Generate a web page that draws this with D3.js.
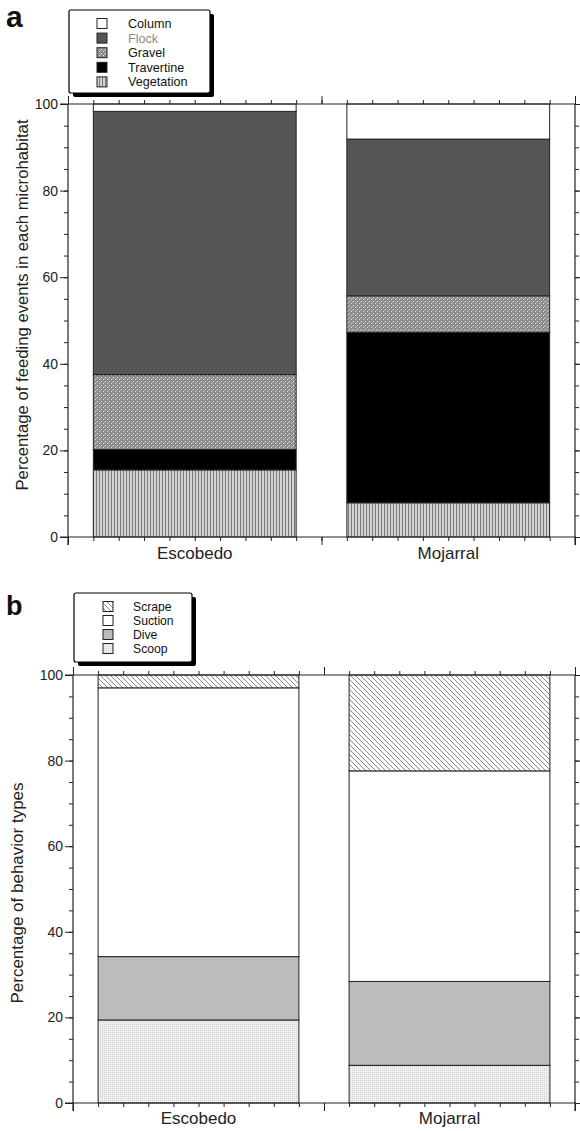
<!DOCTYPE html>
<html><head><meta charset="utf-8">
<script src="https://cdn.jsdelivr.net/npm/d3@7"></script>
<style>body{margin:0;background:#fff}svg{display:block;font-family:"Liberation Sans",Arial,sans-serif}</style>
</head><body><svg id="c" width="580" height="1131"></svg>
<script>
const sites = ["Escobedo", "Mojarral"];
// Panel a: microhabitat (bottom to top)
const habitatKeys = ["Vegetation", "Travertine", "Gravel", "Flock", "Column"];
const vegetation = [15.5, 7.9];
const travertine = [4.7, 39.4];
const gravel = [17.3, 8.4];
const flock = [60.8, 36.2];
const column = [1.7, 8.1];
// Panel b: behavior types (bottom to top)
const behaviorKeys = ["Scoop", "Dive", "Suction", "Scrape"];
const scoop = [19.4, 8.8];
const dive = [14.8, 19.6];
const suction = [62.8, 49.2];
const scrape = [3.0, 22.4];
const yTicks = [0, 20, 40, 60, 80, 100];
const legendA = ["Column", "Flock", "Gravel", "Travertine", "Vegetation"];
const legendB = ["Scrape", "Suction", "Dive", "Scoop"];

const FONT = "'Liberation Sans', Arial, sans-serif";
const svg = d3.select("#c");
const defs = svg.append("defs");
function pat(id, w, h, bg, draw) {
  const p = defs.append("pattern").attr("id", id).attr("patternUnits", "userSpaceOnUse").attr("width", w).attr("height", h);
  p.append("rect").attr("width", w).attr("height", h).attr("fill", bg);
  draw(p);
}
pat("pVeg", 3, 3, "#d2d2d2", p => p.append("rect").attr("x", 0).attr("width", 1).attr("height", 3).attr("fill", "#7a7a7a"));
pat("pGravel", 4, 4, "#8c8c8c", p => {
  p.append("rect").attr("x", 1).attr("y", 1).attr("width", 1).attr("height", 1).attr("fill", "#e0e0e0");
  p.append("rect").attr("x", 3).attr("y", 3).attr("width", 1).attr("height", 1).attr("fill", "#e0e0e0");
  p.append("rect").attr("x", 0).attr("y", 2).attr("width", 1).attr("height", 1).attr("fill", "#c0c0c0");
});
pat("pScoop", 2, 2, "#f0f0f0", p => p.append("rect").attr("width", 1).attr("height", 1).attr("fill", "#d0d0d0"));
pat("pScrape", 5, 5, "#ffffff", p => p.append("path").attr("d", "M-1,-1 L6,6 M-1,4 L1,6 M4,-1 L6,1").attr("stroke", "#7a7a7a").attr("stroke-width", 0.9));

const fillA = {Column: "#ffffff", Flock: "#555555", Gravel: "url(#pGravel)", Travertine: "#000000", Vegetation: "url(#pVeg)"};
const fillB = {Scrape: "url(#pScrape)", Suction: "#ffffff", Dive: "#bcbcbc", Scoop: "url(#pScoop)"};

function panel(cfg) {
  const x = d3.scaleLinear().domain([0, 2]).range([cfg.x0, cfg.x1]);
  const y = d3.scaleLinear().domain([0, 100]).range([cfg.yb, cfg.yt]);
  const g = svg.append("g");
  const rows = sites.map((s, i) => {
    const r = {site: s, idx: i};
    cfg.keys.forEach((k, j) => r[k] = cfg.series[j][i]);
    return r;
  });
  const stacked = d3.stack().keys(cfg.keys)(rows);
  stacked.forEach(layer => {
    g.selectAll(null).data(layer).join("rect")
      .attr("x", d => x(d.data.idx + 0.1))
      .attr("width", d => x(d.data.idx + 0.9) - x(d.data.idx + 0.1))
      .attr("y", d => y(d[1]))
      .attr("height", d => y(d[0]) - y(d[1]))
      .attr("fill", cfg.fills[layer.key])
      .attr("stroke", "#222").attr("stroke-width", 1);
  });
  const minorX = d3.range(0, 21).map(v => v / 10);
  const majorX = [0, 1, 2];
  const minorY = d3.range(0, 101, 5);
  const ax = (gen, vals, size, tr) => {
    const a = g.append("g").attr("transform", tr).call(gen.tickValues(vals).tickSize(size).tickFormat(""));
    a.selectAll("path,line").attr("stroke", "#222").attr("stroke-width", 1);
    a.selectAll(".domain").remove();
    return a;
  };
  const line = (x1, y1, x2, y2) => g.append("line").attr("x1", x1).attr("y1", y1).attr("x2", x2).attr("y2", y2).attr("stroke", "#222").attr("stroke-width", 1.2);
  ax(d3.axisBottom(x), minorX, 4, `translate(0,${cfg.yb})`);
  ax(d3.axisBottom(x), majorX, 8, `translate(0,${cfg.yb})`);
  ax(d3.axisTop(x), minorX, 4, `translate(0,${cfg.yt})`);
  ax(d3.axisTop(x), majorX, 8, `translate(0,${cfg.yt})`);
  ax(d3.axisLeft(y), minorY, 4, `translate(${cfg.x0},0)`);
  const yl = g.append("g").attr("transform", `translate(${cfg.x0},0)`).call(d3.axisLeft(y).tickValues(yTicks).tickSize(8).tickPadding(2));
  yl.selectAll(".domain").remove();
  yl.selectAll("line").attr("stroke", "#222");
  yl.selectAll("text").attr("font-size", 14).attr("fill", "#222").attr("font-family", FONT);
  ax(d3.axisRight(y), minorY, 4, `translate(${cfg.x1},0)`);
  ax(d3.axisRight(y), yTicks, 8, `translate(${cfg.x1},0)`);
  line(cfg.x0 - 8, cfg.yb, cfg.x1 + 1, cfg.yb);
  line(cfg.x0 - 8, cfg.yt, cfg.x1 + 1, cfg.yt);
  line(cfg.x0, cfg.yt, cfg.x0, cfg.yb + 8);
  line(cfg.x1, cfg.yt, cfg.x1, cfg.yb + 8);
  g.selectAll(null).data(sites).join("text")
    .attr("x", (d, i) => x(i + 0.5)).attr("y", cfg.yb + cfg.labOff)
    .attr("text-anchor", "middle").attr("font-size", 17).attr("fill", "#222").text(d => d);
  g.append("text").attr("transform", `translate(${cfg.titleX},${cfg.titleY}) rotate(-90)`)
    .attr("text-anchor", "middle").attr("font-size", cfg.titleSize).attr("fill", "#222").text(cfg.title);
  g.append("text").attr("x", 6).attr("y", cfg.letterY).attr("font-size", cfg.letterSize).attr("font-weight", "bold").attr("fill", "#111").text(cfg.letter);
  const L = cfg.legend;
  g.append("rect").attr("x", L.x + 4).attr("y", L.y + 4).attr("width", L.w).attr("height", L.h).attr("fill", "#000").attr("rx", 2);
  g.append("rect").attr("x", L.x).attr("y", L.y).attr("width", L.w).attr("height", L.h).attr("fill", "#fff").attr("stroke", "#000").attr("stroke-width", 1.2).attr("rx", 2);
  L.items.forEach((k, i) => {
    const cy = L.y + L.first + i * L.step;
    g.append("rect").attr("x", L.sx).attr("y", cy - 5).attr("width", 10).attr("height", 10)
      .attr("fill", cfg.fills[k]).attr("stroke", "#222").attr("stroke-width", 1);
    g.append("text").attr("x", L.tx).attr("y", cy + 4.5).attr("font-size", L.fs)
      .attr("fill", k === "Flock" ? "#8a8a8a" : "#111").text(k);
  });
}

panel({keys: habitatKeys, series: [vegetation, travertine, gravel, flock, column], fills: fillA,
  x0: 68, x1: 575, yt: 104, yb: 537, titleX: 28, titleY: 305, titleSize: 16.7, labOff: 22,
  title: "Percentage of feeding events in each microhabitat",
  letter: "a", letterY: 27, letterSize: 30,
  legend: {x: 69, y: 10, w: 141, h: 83, items: legendA, first: 13.5, step: 14.6, sx: 97, tx: 128, fs: 12.6}});
panel({keys: behaviorKeys, series: [scoop, dive, suction, scrape], fills: fillB,
  x0: 73, x1: 575, yt: 675, yb: 1103, titleX: 23, titleY: 893, titleSize: 17, labOff: 21,
  title: "Percentage of behavior types",
  letter: "b", letterY: 615, letterSize: 27,
  legend: {x: 74, y: 593, w: 118, h: 69, items: legendB, first: 13.5, step: 14, sx: 103, tx: 133, fs: 12.2}});
</script></body></html>
